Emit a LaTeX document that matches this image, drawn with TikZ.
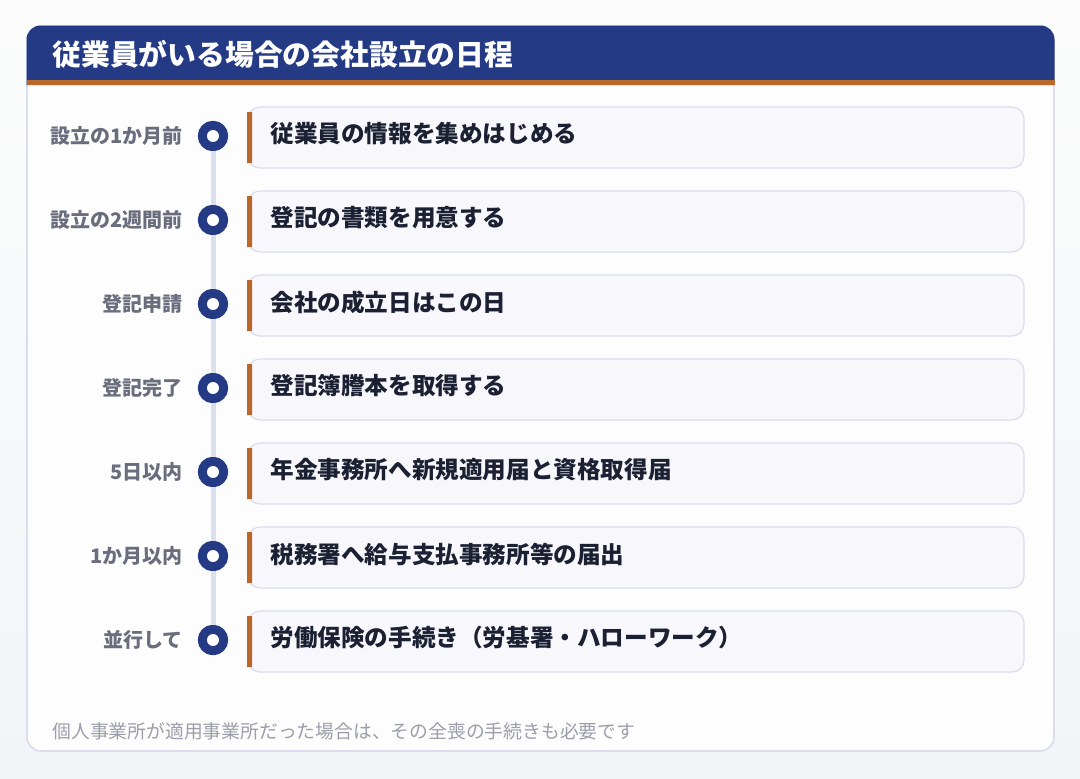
\documentclass[tikz,border=0pt]{standalone}
\usepackage{fontspec}
\setmainfont{Noto Sans CJK JP}
\definecolor{navy}{HTML}{243A84}
\definecolor{rust}{HTML}{B9672B}
\definecolor{bgtop}{HTML}{FBFCFB}
\definecolor{bgbot}{HTML}{F3F4F8}
\definecolor{paper}{HTML}{FCFDFC}
\definecolor{cardline}{HTML}{DADDF0}
\definecolor{cardfill}{HTML}{F8F8FC}
\definecolor{track}{HTML}{DCE0EE}
\definecolor{labelgray}{HTML}{6A6D7D}
\definecolor{ink}{HTML}{1C2033}
\definecolor{notegray}{HTML}{9C9EAB}
\begin{document}
\begin{tikzpicture}[x=0.5pt,y=-0.5pt,line join=round,line cap=round,
	when/.style={anchor=east,inner sep=0,text=labelgray,font=\fontsize{10}{12}\selectfont\bfseries},
	dot/.style={circle,draw=navy,line width=4.5pt,fill=white,minimum size=10.7pt,inner sep=0},
	task/.style={draw=cardline,fill=cardfill,line width=0.6pt,rounded corners=6pt},
	what/.style={anchor=west,inner sep=0,text=ink,font=\fontsize{11.8}{14}\selectfont\bfseries}]
	\def\xl{27} \def\xr{1054}
	\def\yt{26} \def\yb{751}
	% page and card
	\shade[top color=bgtop,bottom color=bgbot] (0,0) rectangle (1080,778);
	\useasboundingbox (0,0) rectangle (1080,778);
	\draw[cardline,fill=paper,line width=0.8pt,rounded corners=7pt] (\xl,\yt) rectangle (\xr,\yb);
	\fill[navy,rounded corners=7pt] (\xl-0.5,85) -- (\xl-0.5,\yt-0.5) -- (\xr+0.5,\yt-0.5) -- (\xr+0.5,85);
	\fill[rust] (\xl-0.5,80) rectangle (\xr+0.5,85);
	\node[anchor=west,inner sep=0,text=white,font=\fontsize{14.4}{17}\selectfont\bfseries] (title) at (52,54) {従業員がいる場合の会社設立の日程};
	% steps
	\node[dot] (d1) at (213,136) {};
	\node[dot] (d2) at (213,220) {};
	\node[dot] (d3) at (213,304) {};
	\node[dot] (d4) at (213,388) {};
	\node[dot] (d5) at (213,472) {};
	\node[dot] (d6) at (213,556) {};
	\node[dot] (d7) at (213,640) {};
	\draw[track,line width=2.5pt,line cap=butt] (d1) -- (d2) -- (d3) -- (d4) -- (d5) -- (d6) -- (d7);
	\node[when] (w1) at (183,136) {設立の1か月前};
	\node[when] (w2) at (183,220) {設立の2週間前};
	\node[when] (w3) at (183,304) {登記申請};
	\node[when] (w4) at (183,388) {登記完了};
	\node[when] (w5) at (183,472) {5日以内};
	\node[when] (w6) at (183,556) {1か月以内};
	\node[when] (w7) at (183,640) {並行して};
	\draw[task] (248,107) rectangle (1024,168);
	\draw[task] (248,191) rectangle (1024,252);
	\draw[task] (248,275) rectangle (1024,336);
	\draw[task] (248,359) rectangle (1024,420);
	\draw[task] (248,443) rectangle (1024,504);
	\draw[task] (248,527) rectangle (1024,588);
	\draw[task] (248,611) rectangle (1024,672);
	\fill[rust] (247,112) rectangle (252,163) (247,196) rectangle (252,247)
		(247,280) rectangle (252,331) (247,364) rectangle (252,415)
		(247,448) rectangle (252,499) (247,532) rectangle (252,583)
		(247,616) rectangle (252,667);
	\node[what] (t1) at (270,134) {従業員の情報を集めはじめる};
	\node[what] (t2) at (270,218) {登記の書類を用意する};
	\node[what] (t3) at (270,302) {会社の成立日はこの日};
	\node[what] (t4) at (270,386) {登記簿謄本を取得する};
	\node[what] (t5) at (270,470) {年金事務所へ新規適用届と資格取得届};
	\node[what] (t6) at (270,554) {税務署へ給与支払事務所等の届出};
	\node[what] (t7) at (270,638) {労働保険の手続き（労基署・ハローワーク）};
	% note
	\node[anchor=west,inner sep=0,text=notegray,font=\fontsize{9.4}{11}\selectfont] (note) at (52,731) {個人事業所が適用事業所だった場合は、その全喪の手続きも必要です};
\end{tikzpicture}
\end{document}
